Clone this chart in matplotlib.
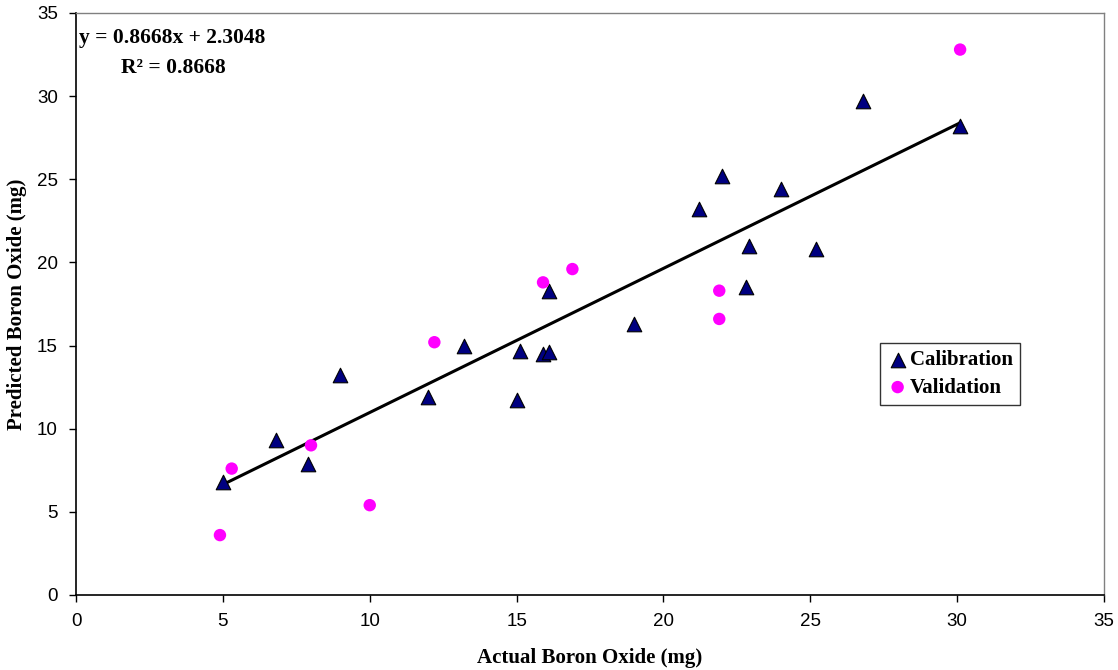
import matplotlib
matplotlib.use("Agg")
import matplotlib.pyplot as plt
import numpy as np

# Calibration set: actual vs predicted boron oxide (mg)
cal_actual = [5.0, 6.8, 7.9, 9.0, 12.0, 13.2, 15.0, 15.1, 15.9, 16.1,
              16.1, 19.0, 21.2, 22.0, 22.9, 22.8, 24.0, 25.2, 26.8, 30.1]
cal_predicted = [6.8, 9.3, 7.9, 13.2, 11.9, 15.0, 11.7, 14.7, 14.5, 14.6,
                 18.3, 16.3, 23.2, 25.2, 21.0, 18.5, 24.4, 20.8, 29.7, 28.2]

# Validation set
val_actual = [4.9, 5.3, 8.0, 10.0, 12.2, 15.9, 16.9, 21.9, 21.9, 30.1]
val_predicted = [3.6, 7.6, 9.0, 5.4, 15.2, 18.8, 19.6, 18.3, 16.6, 32.8]

# Linear trend of the calibration set
slope = 0.8668
intercept = 2.3048
r_squared = 0.8668

serif = "Liberation Serif"
sans = "Liberation Sans"

fig = plt.figure(figsize=(11.18, 6.7), dpi=100)
ax = fig.add_axes([0.068, 0.112, 0.9195, 0.8686])

# Trend line over the calibration range
xl = np.array([min(cal_actual), max(cal_actual)])
ax.plot(xl, slope * xl + intercept, color="black", lw=2.2, zorder=2)

ax.scatter(cal_actual, cal_predicted, marker="^", s=110, c="#000080",
           edgecolors="black", linewidths=0.8, label="Calibration", zorder=3)
ax.scatter(val_actual, val_predicted, marker="o", s=80, c="#FF00FF",
           edgecolors="none", label="Validation", zorder=3)

ax.set_xlim(0, 35)
ax.set_ylim(0, 35)
ax.set_xticks(range(0, 36, 5))
ax.set_yticks(range(0, 36, 5))
ax.tick_params(direction="out", length=5, width=1, labelsize=13.5, pad=8)
for lab in ax.get_xticklabels() + ax.get_yticklabels():
    lab.set_fontfamily(sans)

for side in ["left", "bottom"]:
    ax.spines[side].set_color("black")
    ax.spines[side].set_linewidth(1.2)
for side in ["top", "right"]:
    ax.spines[side].set_color("#808080")
    ax.spines[side].set_linewidth(1.0)

ax.set_xlabel("Actual Boron Oxide (mg)", fontfamily=serif, fontweight="bold",
              fontsize=15)
ax.set_ylabel("Predicted Boron Oxide (mg)", fontfamily=serif, fontweight="bold",
              fontsize=15)
ax.xaxis.set_label_coords(0.5, -0.091)
ax.yaxis.set_label_coords(-0.0477, 0.5)

# Regression equation and R²
ax.text(0.1, 33.5, f"y = {slope:.4f}x + {intercept:.4f}", fontfamily=serif,
        fontweight="bold", fontsize=15.5, ha="left", va="center")
ax.text(3.3, 31.7, f"R² = {r_squared:.4f}", fontfamily=serif,
        fontweight="bold", fontsize=15.5, ha="center", va="center")

leg = ax.legend(loc="upper left", bbox_to_anchor=(0.782, 0.433),
                borderaxespad=0,
                prop={"family": serif, "weight": "bold", "size": 15},
                frameon=True, fancybox=False, edgecolor="black",
                handletextpad=0.1, handlelength=1.0, borderpad=0.35,
                labelspacing=0.35, scatterpoints=1)
leg.get_frame().set_linewidth(1.0)

fig.savefig("out.png", dpi=100)
